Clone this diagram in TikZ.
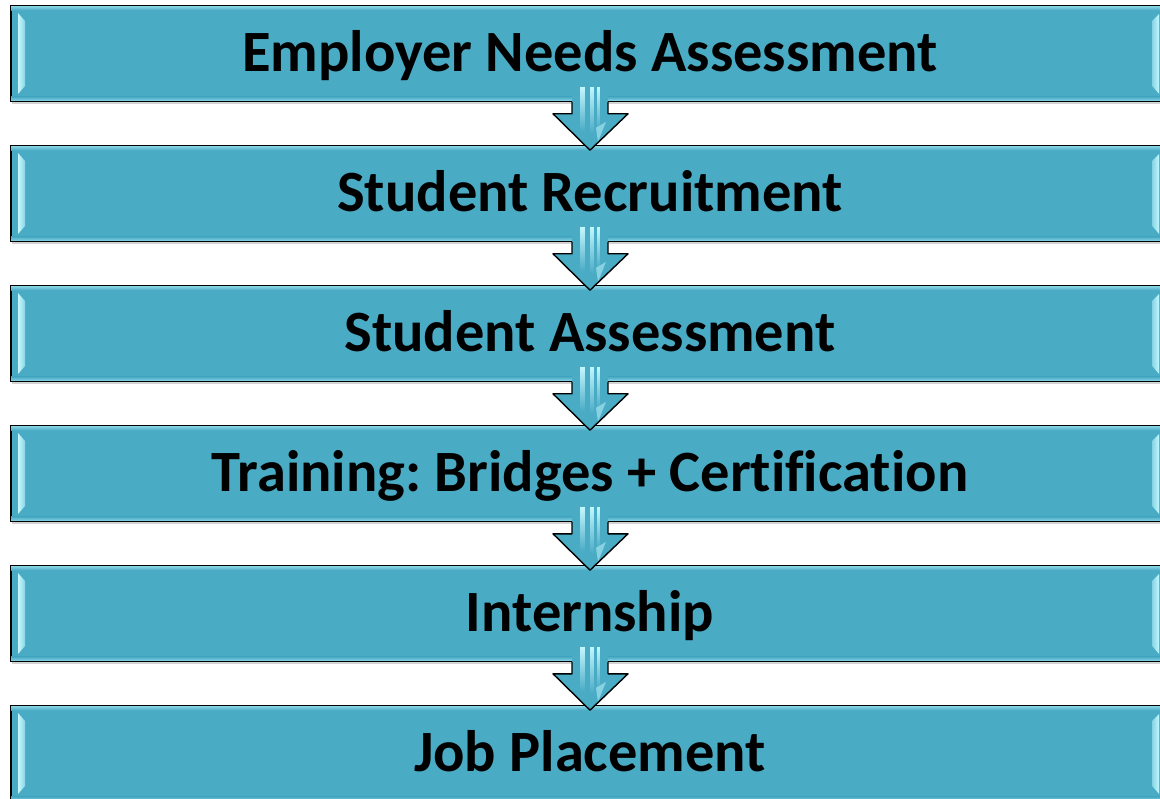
\documentclass[tikz,border=0pt]{standalone}
\usepackage{fontspec}
\setmainfont[Ligatures={NoCommon}]{Carlito}
\usetikzlibrary{shadows,calc,fadings}
\definecolor{aqua}{HTML}{4AABC5}
\definecolor{aqualight}{HTML}{C4F8FF}
\definecolor{aquamid}{HTML}{86D3E4}
\tikzset{
  stagebox/.style={draw=black, line width=1.6pt, fill=aqua, minimum width=1154, minimum height=95,
    inner sep=0pt, text height=43, text depth=7,
    font=\fontsize{58.5}{62}\selectfont\bfseries\frenchspacing,
    drop shadow={shadow xshift=1pt, shadow yshift=-3pt, opacity=0.35}},
  bevel/.style={left color=aqualight, right color=aquamid},
  bevelr/.style={left color=aquamid, right color=aqualight},
  flowarrow/.style={fill=aqua},
  arrowline/.style={draw=black, line width=1.4pt, line join=round},
  stripe/.style={fill=aqualight, path fading=south}
}
\begin{document}
\begin{tikzpicture}[x=1pt,y=-1pt]
\useasboundingbox (0,0) rectangle (1160,799);
\clip (0,0) rectangle (1160,799);
\node[stagebox] (b1) at (588,53.5) {\hspace*{4pt}Employer Needs Assessment};
\node[stagebox] (b2) at (588,193.5) {\hspace*{4pt}Student Recruitment};
\node[stagebox] (b3) at (588,333.5) {\hspace*{4pt}Student Assessment};
\node[stagebox] (b4) at (588,473.5) {\hspace*{4pt}Training: Bridges + Certification};
\node[stagebox] (b5) at (588,613.5) {\hspace*{4pt}Internship};
\node[stagebox] (b6) at (588,753.5) {\hspace*{4pt}Job Placement};
\foreach \b in {b1,b2,b3,b4,b5,b6}{
  % top and bottom soft bevel
  \shade[top color=aquamid, bottom color=aqua] ($(\b.north west)+(1,1)$) rectangle ($(\b.north east)+(-1,5)$);
  \shade[top color=aqua, bottom color=aquamid] ($(\b.south west)+(1,-5)$) rectangle ($(\b.south east)+(-1,-1)$);
  % left and right bright bevel strips
  \shade[bevel] ($(\b.north west)+(8,8)$) -- ($(\b.north west)+(15,16)$) -- ($(\b.south west)+(15,-16)$) -- ($(\b.south west)+(8,-8)$) -- cycle;
  \shade[bevelr] (1159,0 |- {$(\b.north)+(0,9)$}) -- (1152,0 |- {$(\b.north)+(0,16)$}) -- (1152,0 |- {$(\b.south)+(0,-16)$}) -- (1159,0 |- {$(\b.south)+(0,-8)$}) -- cycle;
}
\foreach \a/\b in {b1/b2,b2/b3,b3/b4,b4/b5,b5/b6}{
  \coordinate (s) at ($(\a.south)+(2,0)$);
  \coordinate (t) at ($(\b.north)+(2,5)$);
  \fill[flowarrow] ($(s)+(-18,-15)$) -- ($(s)+(18,-15)$) -- ($(s)+(18,12)$) -- ($(s)+(38,12)$) -- (t) -- ($(s)+(-37,12)$) -- ($(s)+(-18,12)$) -- cycle;
  \fill[stripe] ($(s)+(-10,-15)$) rectangle ($(s)+(-5,30)$);
  \fill[stripe] ($(s)+(0,-15)$) rectangle ($(s)+(4,32)$);
  \fill[stripe] ($(s)+(7,-15)$) rectangle ($(s)+(10,28)$);
  \fill[aqualight, opacity=0.5] ($(s)+(6,26)$) -- ($(s)+(16,20)$) -- ($(s)+(8,40)$) -- cycle;
  \draw[arrowline] ($(s)+(-18,0)$) -- ($(s)+(-18,12)$) -- ($(s)+(-37,12)$) -- (t) -- ($(s)+(38,12)$) -- ($(s)+(18,12)$) -- ($(s)+(18,0)$);
}
\end{tikzpicture}
\end{document}
